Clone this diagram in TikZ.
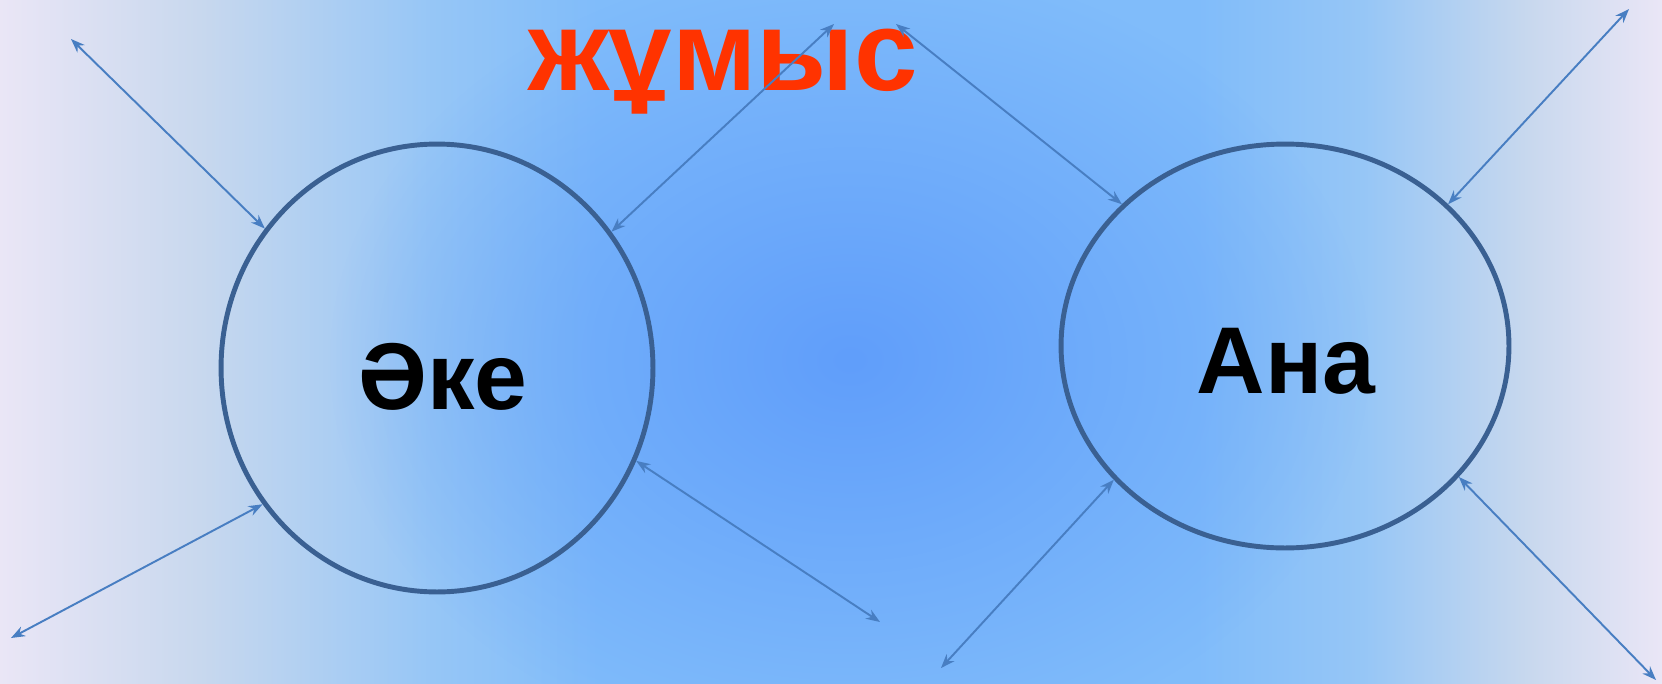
\documentclass[tikz,border=0pt]{standalone}
\usepackage{fontspec}
\setmainfont{Liberation Sans}
\usetikzlibrary{shapes.geometric,arrows.meta,fadings}
\definecolor{bgedge}{RGB}{234,230,246}
\definecolor{bgpale}{RGB}{200,216,238}
\definecolor{bgmid}{RGB}{150,198,246}
\definecolor{bgblue}{RGB}{128,188,250}
\definecolor{bgdeep}{RGB}{96,158,250}
\definecolor{ringcol}{RGB}{58,96,146}
\definecolor{linkcol}{RGB}{72,126,194}
\definecolor{wordred}{RGB}{255,51,0}
\pgfdeclarehorizontalshading{wall}{100bp}{color(0bp)=(bgedge); color(25bp)=(bgedge); color(31bp)=(bgpale); color(38bp)=(bgmid); color(43bp)=(bgblue); color(61bp)=(bgblue); color(66bp)=(bgmid); color(71bp)=(bgpale); color(75bp)=(bgedge); color(100bp)=(bgedge)}
\tikzfading[name=blob, inner color=transparent!0, outer color=transparent!100]
\begin{document}
\begin{tikzpicture}[x=0.02cm, y=-0.02cm,
  parent/.style={draw=ringcol, line width=2.8pt, ellipse, inner sep=0pt},
  bigword/.style={font=\bfseries\fontsize{54}{60}\selectfont, anchor=base, inner sep=0pt},
  link/.style={draw=linkcol, line width=1.1pt, {Stealth[length=8pt,width=6pt]}-{Stealth[length=8pt,width=6pt]}}]
\useasboundingbox (0,0) rectangle (1662,683);
\shade[shading=wall] (0,0) rectangle (1662,683);
\begin{scope}
\clip (0,0) rectangle (1662,683);
\fill[bgdeep, path fading=blob] (850,360) ellipse [x radius=520, y radius=400];
\end{scope}

\node (father)[parent, minimum width=8.64cm, minimum height=8.96cm] at (437,368) {};
\node (mother)[parent, minimum width=8.96cm, minimum height=8.08cm] at (1285,346) {};
\node (fatherlbl)[bigword] at (443,409) {Әке};
\node (motherlbl)[bigword] at (1286,393) {Ана};
\node (work)[bigword, text=wordred, font=\bfseries\fontsize{65}{70}\selectfont] at (723,90) {жұмыс};

\coordinate (fa) at (71,39);
\coordinate (fb) at (11,638);
\coordinate (fc) at (834,24);
\coordinate (fd) at (880,622);
\coordinate (ma) at (896,24);
\coordinate (mb) at (1629,9);
\coordinate (mc) at (941,668);
\coordinate (md) at (1656,680);

\draw[link] (fa) -- (father.141.7);
\draw[link] (fb) -- (father.218.3);
\draw[link] (father.38) -- (fc);
\draw[link] (father.-25.8) -- (fd);
\draw[link] (ma) -- (mother.139.2);
\draw[link] (mother.41) -- (mb);
\draw[link] (mother.218.9) -- (mc);
\draw[link] (mother.-37.5) -- (md);
\end{tikzpicture}
\end{document}
